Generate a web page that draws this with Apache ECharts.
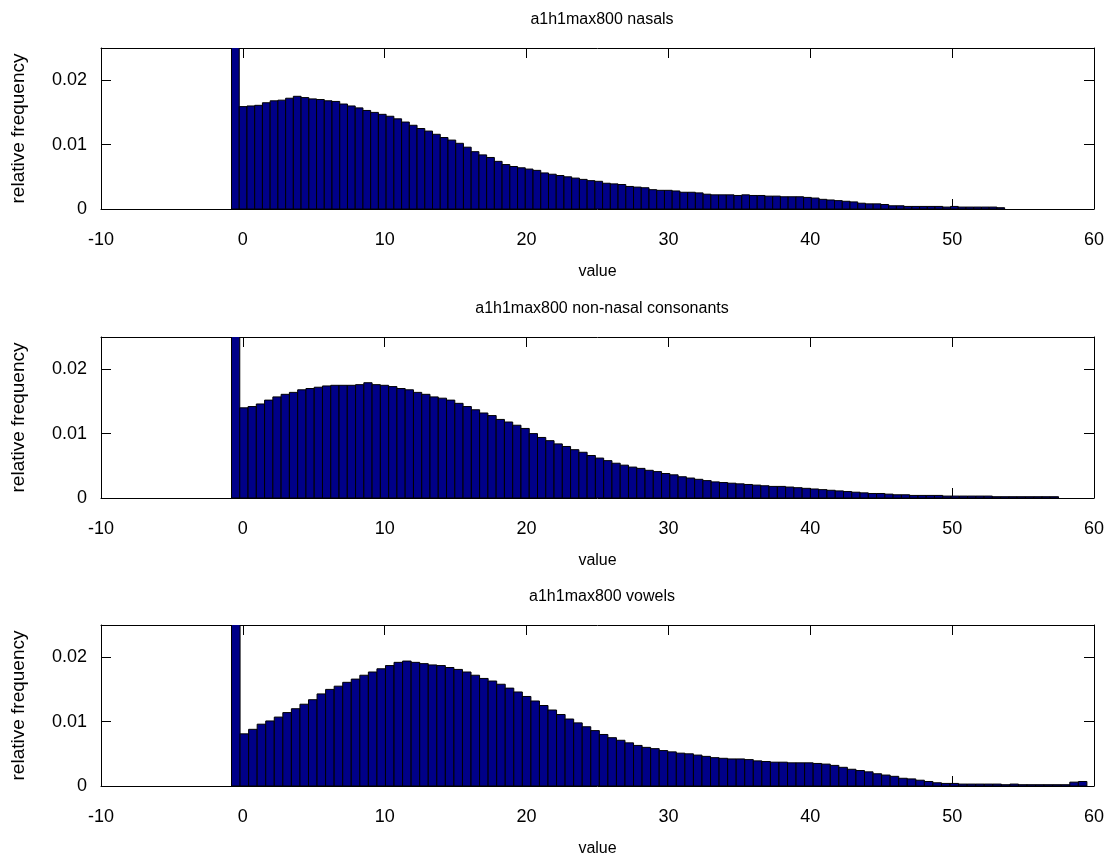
<!DOCTYPE html>
<html>
<head>
<meta charset="utf-8">
<title>a1h1max800</title>
<script src="https://cdn.jsdelivr.net/npm/echarts@6/dist/echarts.min.js"></script>
<style>
  html, body { margin: 0; padding: 0; background: #fff; }
  #chart { width: 1115px; height: 863px; }
</style>
</head>
<body>
<div id="chart"></div>
<script>
// histogram bins (100 per panel), first bin is the spike below 0
var nasalStart = -0.8, nasalWidth = 0.545;
var nasalFreq = [
  0.035, 0.0159, 0.0160, 0.0161, 0.0165, 0.0168, 0.0169, 0.0172, 0.0175, 0.0173,
  0.0171, 0.0170, 0.0168, 0.0167, 0.0163, 0.0160, 0.0157, 0.0153, 0.0150, 0.0147,
  0.0144, 0.0140, 0.0135, 0.0130, 0.0125, 0.0121, 0.0116, 0.0111, 0.0107, 0.0102,
  0.0096, 0.0089, 0.0084, 0.0080, 0.0074, 0.0069, 0.0066, 0.0064, 0.0062, 0.0060,
  0.0056, 0.0054, 0.0052, 0.0050, 0.0048, 0.0046, 0.0044, 0.0043, 0.0040, 0.0039,
  0.0038, 0.0035, 0.0034, 0.0033, 0.0030, 0.0029, 0.0029, 0.0028, 0.0026, 0.0026,
  0.0025, 0.0023, 0.0022, 0.0022, 0.0022, 0.0021, 0.0022, 0.0021, 0.0021, 0.0020,
  0.0020, 0.0019, 0.0019, 0.0019, 0.0018, 0.0017, 0.0015, 0.0014, 0.0013, 0.0012,
  0.0011, 0.0009, 0.0008, 0.0008, 0.0007, 0.0005, 0.0005, 0.0004, 0.0004, 0.0004,
  0.0004, 0.0004, 0.0003, 0.0004, 0.0003, 0.0003, 0.0003, 0.0003, 0.0003, 0.0002
];
var consStart = -0.8, consWidth = 0.583;
var consFreq = [
  0.035, 0.0140, 0.0142, 0.0146, 0.0152, 0.0157, 0.0161, 0.0164, 0.0168, 0.0170,
  0.0172, 0.0174, 0.0175, 0.0175, 0.0175, 0.0176, 0.0179, 0.0176, 0.0175, 0.0173,
  0.0170, 0.0168, 0.0164, 0.0161, 0.0157, 0.0155, 0.0152, 0.0147, 0.0142, 0.0137,
  0.0132, 0.0128, 0.0122, 0.0118, 0.0113, 0.0108, 0.0100, 0.0094, 0.0089, 0.0084,
  0.0080, 0.0075, 0.0071, 0.0066, 0.0062, 0.0058, 0.0054, 0.0051, 0.0048, 0.0046,
  0.0043, 0.0041, 0.0038, 0.0036, 0.0033, 0.0031, 0.0029, 0.0027, 0.0025, 0.0024,
  0.0023, 0.0022, 0.0021, 0.0020, 0.0019, 0.0018, 0.0018, 0.0017, 0.0016, 0.0015,
  0.0014, 0.0013, 0.0012, 0.0011, 0.0010, 0.0009, 0.0008, 0.0007, 0.0007, 0.0006,
  0.0005, 0.0005, 0.0004, 0.0004, 0.0004, 0.0004, 0.0003, 0.0003, 0.0003, 0.0003,
  0.0003, 0.0003, 0.0002, 0.0002, 0.0002, 0.0002, 0.0002, 0.0002, 0.0002, 0.0002
];
var vowelStart = -0.8, vowelWidth = 0.603;
var vowelFreq = [
  0.035, 0.0081, 0.0088, 0.0096, 0.0101, 0.0107, 0.0114, 0.0120, 0.0127, 0.0134,
  0.0143, 0.0150, 0.0155, 0.0161, 0.0166, 0.0172, 0.0177, 0.0182, 0.0187, 0.0192,
  0.0194, 0.0192, 0.0190, 0.0188, 0.0187, 0.0184, 0.0181, 0.0177, 0.0172, 0.0167,
  0.0163, 0.0158, 0.0152, 0.0146, 0.0139, 0.0132, 0.0125, 0.0118, 0.0111, 0.0104,
  0.0098, 0.0092, 0.0086, 0.0080, 0.0075, 0.0071, 0.0067, 0.0063, 0.0060, 0.0058,
  0.0055, 0.0053, 0.0051, 0.0050, 0.0048, 0.0046, 0.0044, 0.0043, 0.0042, 0.0042,
  0.0041, 0.0039, 0.0038, 0.0037, 0.0037, 0.0036, 0.0036, 0.0036, 0.0035, 0.0034,
  0.0032, 0.0029, 0.0026, 0.0024, 0.0022, 0.0019, 0.0017, 0.0015, 0.0012, 0.0011,
  0.0009, 0.0007, 0.0005, 0.0004, 0.0004, 0.0003, 0.0003, 0.0003, 0.0003, 0.0003,
  0.0002, 0.0003, 0.0002, 0.0002, 0.0002, 0.0002, 0.0002, 0.0002, 0.0006, 0.0007
];
var panelTitles = ['a1h1max800 nasals', 'a1h1max800 non-nasal consonants', 'a1h1max800 vowels'];
var xTicks = [-10, 0, 10, 20, 30, 40, 50, 60];
var yTicks = [0, 0.01, 0.02];

var FONT = 'Liberation Sans';
var panelTop = [48, 337, 625];
var panelHeight = 161;

function toBins(start, width, freq) {
  return freq.map(function (v, i) {
    return [start + i * width, start + (i + 1) * width, v];
  });
}

function renderBin(params, api) {
  var lo = api.coord([api.value(0), 0]);
  var hi = api.coord([api.value(1), api.value(2)]);
  return {
    type: 'rect',
    shape: { x: lo[0], y: hi[1], width: hi[0] - lo[0], height: lo[1] - hi[1] },
    style: { fill: '#000088', stroke: '#000', lineWidth: 1 }
  };
}

var panels = [
  toBins(nasalStart, nasalWidth, nasalFreq),
  toBins(consStart, consWidth, consFreq),
  toBins(vowelStart, vowelWidth, vowelFreq)
];

var axisLine = { show: true, onZero: false, lineStyle: { color: '#000', width: 1 } };
var tick = { show: true, inside: true, length: 10, lineStyle: { color: '#000' } };
var tickLabel = { color: '#000', fontFamily: FONT, fontSize: 18 };
var nameStyle = { color: '#000', fontFamily: FONT, fontSize: 16 };

var option = {
  backgroundColor: '#fff',
  animation: false,
  title: [],
  grid: [],
  xAxis: [],
  yAxis: [],
  series: []
};

panels.forEach(function (bins, p) {
  option.title.push({
    text: panelTitles[p],
    left: 597, top: panelTop[p] - 41, textAlign: 'center',
    textStyle: { color: '#000', fontFamily: FONT, fontSize: 16, fontWeight: 'normal' }
  });
  option.grid.push({ left: 101, right: 21, top: panelTop[p], height: panelHeight });
  // bottom + mirrored top x axis
  option.xAxis.push({
    type: 'value', gridIndex: p, position: 'bottom', min: xTicks[0], max: xTicks[xTicks.length - 1], interval: 10,
    name: 'value', nameLocation: 'middle', nameGap: 55,
    nameTextStyle: nameStyle,
    axisLine: axisLine, axisTick: tick, splitLine: { show: false },
    axisLabel: Object.assign({ margin: 22 }, tickLabel)
  });
  option.xAxis.push({
    type: 'value', gridIndex: p, position: 'top', min: xTicks[0], max: xTicks[xTicks.length - 1], interval: 10,
    axisLine: axisLine, axisTick: tick, splitLine: { show: false }, axisLabel: { show: false }
  });
  // left + mirrored right y axis
  option.yAxis.push({
    type: 'value', gridIndex: p, position: 'left', min: yTicks[0], max: 0.025, interval: 0.01,
    name: 'relative frequency', nameLocation: 'middle', nameGap: 73, nameRotate: 90,
    nameTextStyle: { color: '#000', fontFamily: FONT, fontSize: 19 },
    axisLine: axisLine, axisTick: tick, splitLine: { show: false },
    axisLabel: Object.assign({ margin: 14, showMaxLabel: false }, tickLabel)
  });
  option.yAxis.push({
    type: 'value', gridIndex: p, position: 'right', min: yTicks[0], max: 0.025, interval: 0.01,
    axisLine: axisLine, axisTick: tick, splitLine: { show: false }, axisLabel: { show: false }
  });
  option.series.push({
    type: 'custom', xAxisIndex: p * 2, yAxisIndex: p * 2,
    renderItem: renderBin, clip: true,
    encode: { x: [0, 1], y: 2 },
    data: bins
  });
});

var chart = echarts.init(document.getElementById('chart'));
chart.setOption(option);
</script>
</body>
</html>
